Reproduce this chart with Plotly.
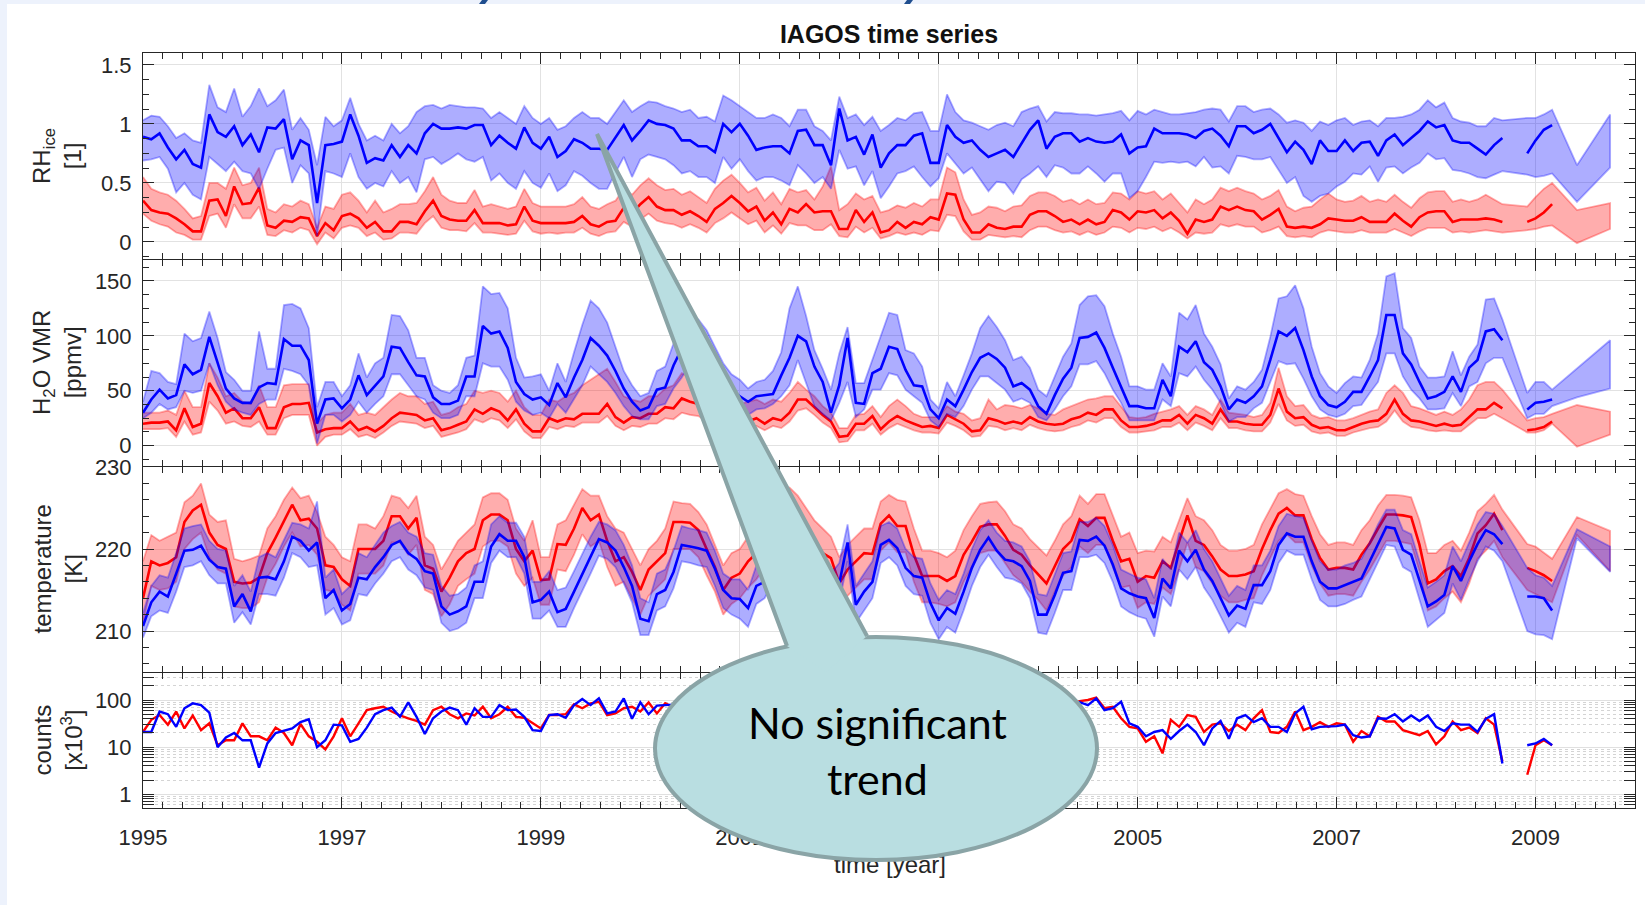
import plotly.graph_objects as go

def arr(s):
    return [float(t) for t in s.split()]

# ---------------- time axis ----------------
START_YEAR = 1995          # first monthly value = Jan 1995
TAIL_MONTHS = ["2008-12", "2009-01", "2009-02", "2009-03"]   # short segment after gap
EXT_MONTHS = ["2009-06", "2009-10"]                          # band-only points

def dec(ym):
    y, m = ym.split("-")
    return int(y) + (int(m) - 1) / 12.0

# ---------------- RH_ice ----------------
rh_b = arr("""
0.89 0.87 0.92 0.80 0.70 0.78 0.66 0.63 1.08 0.93
0.89 0.98 0.82 0.91 0.76 0.97 0.96 1.04 0.70 0.86
0.82 0.33 0.82 0.83 0.85 1.08 0.90 0.67 0.71 0.69
0.82 0.72 0.82 0.75 0.92 1.00 0.96 0.96 0.97 0.96
0.99 0.99 0.82 0.90 0.84 0.79 0.97 0.84 0.79 0.89
0.72 0.77 0.87 0.84 0.79 0.79 0.78 0.88 0.99 0.86
0.94 1.03 1.00 0.99 0.96 0.86 0.86 0.81 0.81 0.76
1.00 0.93 1.00 0.90 0.78 0.80 0.81 0.81 0.75 0.94
0.95 0.82 0.82 0.65 1.13 0.86 0.89 0.74 0.91 0.63
0.75 0.82 0.82 0.90 0.92 0.67 0.67 0.99 0.89 0.84
0.86 0.78 0.72 0.75 0.78 0.72 0.84 0.95 1.03 0.79
0.89 0.92 0.92 0.85 0.88 0.85 0.84 0.85 0.91 0.75
0.80 0.81 0.96 0.92 0.92 0.92 0.91 0.88 0.94 0.96
0.90 0.81 0.98 0.98 0.92 0.95 1.00 0.88 0.76 0.85
0.78 0.66 0.86 0.77 0.77 0.86 0.77 0.84 0.85 0.73
0.86 0.91 0.82 0.88 0.94 1.02 0.97 0.99 0.86 0.84
0.84 0.79 0.74 0.82 0.88""")
rh_b_t = arr("0.75 0.86 0.95 0.99")
rh_b_hi = arr("""
1.03 1.07 1.06 0.98 0.88 0.92 0.86 0.84 1.33 1.14
1.10 1.30 1.06 1.15 1.30 1.15 1.20 1.29 0.95 1.05
0.95 0.65 1.06 0.98 1.03 1.22 1.00 0.86 0.90 0.86
1.00 0.92 0.98 1.10 1.15 1.16 1.13 1.16 1.15 1.14
1.14 1.13 1.05 1.10 1.05 1.00 1.15 1.05 1.00 1.05
0.95 0.98 1.05 1.10 1.05 1.05 1.00 1.10 1.20 1.10
1.15 1.19 1.18 1.15 1.13 1.10 1.12 1.05 1.06 1.02
1.24 1.20 1.15 1.10 1.05 1.05 1.08 1.05 0.98 1.12
1.12 0.98 0.94 0.86 1.23 1.05 1.08 0.99 1.06 0.94
0.99 1.05 1.03 1.09 1.10 0.94 0.94 1.25 1.10 1.03
1.01 0.98 0.95 0.99 1.01 0.98 1.10 1.13 1.15 1.02
1.10 1.09 1.09 1.08 1.08 1.07 1.08 1.09 1.11 1.03
1.11 1.08 1.12 1.10 1.08 1.08 1.09 1.10 1.12 1.13
1.12 1.02 1.15 1.15 1.10 1.12 1.13 1.08 1.01 1.03
1.01 0.94 1.02 0.99 1.03 1.05 0.99 1.02 1.03 0.98
1.05 1.05 1.06 1.08 1.12 1.20 1.14 1.18 1.05 1.02
1.01 0.98 0.98 1.05 1.03""")
rh_b_hi_t = arr("1.05 1.05 1.08 1.12")
rh_b_hi_e = arr("0.65 1.08")
rh_b_lo = arr("""
0.69 0.70 0.72 0.62 0.42 0.50 0.40 0.36 0.72 0.66
0.60 0.68 0.60 0.58 0.45 0.62 0.78 0.80 0.50 0.65
0.58 0.05 0.60 0.58 0.55 0.75 0.55 0.45 0.50 0.47
0.60 0.50 0.55 0.42 0.70 0.72 0.66 0.70 0.75 0.70
0.68 0.72 0.52 0.58 0.50 0.45 0.60 0.50 0.46 0.58
0.43 0.48 0.60 0.56 0.50 0.45 0.45 0.58 0.72 0.55
0.70 0.74 0.72 0.70 0.65 0.58 0.60 0.55 0.55 0.50
0.72 0.62 0.70 0.60 0.52 0.55 0.55 0.52 0.48 0.65
0.58 0.50 0.55 0.45 0.78 0.62 0.64 0.48 0.60 0.37
0.47 0.58 0.60 0.64 0.55 0.47 0.54 0.75 0.67 0.58
0.63 0.53 0.43 0.51 0.50 0.41 0.53 0.58 0.64 0.55
0.65 0.63 0.58 0.58 0.64 0.58 0.51 0.58 0.58 0.37
0.43 0.55 0.68 0.67 0.68 0.67 0.68 0.64 0.72 0.63
0.64 0.58 0.73 0.72 0.70 0.70 0.72 0.61 0.50 0.55
0.39 0.34 0.39 0.41 0.47 0.51 0.58 0.57 0.64 0.51
0.63 0.64 0.58 0.63 0.67 0.75 0.70 0.71 0.61 0.60
0.58 0.55 0.54 0.57 0.60""")
rh_b_lo_t = arr("0.57 0.55 0.56 0.58")
rh_b_lo_e = arr("0.34 0.63")

rh_r = arr("""
0.35 0.27 0.25 0.24 0.20 0.15 0.09 0.09 0.35 0.36
0.22 0.47 0.32 0.33 0.46 0.14 0.12 0.18 0.17 0.21
0.20 0.05 0.16 0.10 0.22 0.24 0.20 0.12 0.17 0.09
0.09 0.17 0.17 0.15 0.26 0.35 0.22 0.19 0.18 0.18
0.27 0.16 0.16 0.16 0.14 0.15 0.30 0.18 0.16 0.16
0.16 0.16 0.17 0.22 0.15 0.13 0.17 0.18 0.29 0.24
0.32 0.38 0.30 0.27 0.27 0.23 0.26 0.22 0.17 0.28
0.33 0.39 0.33 0.26 0.30 0.18 0.25 0.15 0.28 0.25
0.32 0.25 0.26 0.26 0.11 0.11 0.27 0.17 0.25 0.08
0.10 0.17 0.12 0.17 0.15 0.21 0.19 0.41 0.40 0.19
0.08 0.08 0.15 0.12 0.11 0.13 0.13 0.23 0.26 0.26
0.22 0.17 0.19 0.15 0.19 0.15 0.17 0.27 0.25 0.19
0.26 0.25 0.27 0.20 0.25 0.18 0.07 0.19 0.17 0.19
0.30 0.27 0.30 0.27 0.26 0.19 0.23 0.28 0.13 0.12
0.13 0.12 0.15 0.20 0.19 0.18 0.18 0.21 0.17 0.17
0.17 0.24 0.18 0.13 0.21 0.25 0.26 0.26 0.17 0.19
0.19 0.19 0.20 0.19 0.17""")
rh_r_t = arr("0.17 0.20 0.25 0.32")
rh_r_hi = arr("""
0.55 0.45 0.42 0.40 0.35 0.28 0.20 0.22 0.50 0.50
0.45 0.63 0.48 0.50 0.63 0.28 0.25 0.32 0.30 0.35
0.32 0.12 0.30 0.28 0.40 0.42 0.35 0.25 0.35 0.25
0.28 0.32 0.32 0.33 0.43 0.55 0.40 0.35 0.33 0.33
0.44 0.30 0.32 0.30 0.28 0.30 0.45 0.33 0.30 0.30
0.30 0.30 0.32 0.38 0.30 0.28 0.32 0.35 0.45 0.40
0.48 0.54 0.48 0.44 0.45 0.40 0.43 0.38 0.33 0.45
0.52 0.57 0.50 0.42 0.46 0.35 0.42 0.32 0.45 0.42
0.44 0.36 0.47 0.64 0.27 0.32 0.41 0.36 0.39 0.25
0.27 0.31 0.29 0.33 0.30 0.36 0.36 0.63 0.59 0.36
0.23 0.25 0.30 0.29 0.26 0.30 0.31 0.39 0.42 0.42
0.39 0.34 0.36 0.32 0.36 0.32 0.33 0.42 0.41 0.36
0.43 0.41 0.43 0.36 0.41 0.33 0.25 0.36 0.32 0.36
0.46 0.43 0.46 0.43 0.41 0.36 0.39 0.44 0.30 0.26
0.29 0.30 0.36 0.41 0.36 0.34 0.35 0.39 0.34 0.36
0.34 0.40 0.34 0.29 0.37 0.42 0.43 0.43 0.34 0.36
0.34 0.36 0.40 0.36 0.32""")
rh_r_hi_t = arr("0.30 0.38 0.45 0.50")
rh_r_hi_e = arr("0.27 0.33")
rh_r_lo = arr("""
0.24 0.18 0.15 0.13 0.08 0.06 0.02 0.02 0.22 0.24
0.12 0.32 0.20 0.20 0.30 0.06 0.05 0.10 0.08 0.12
0.10 -0.02 0.08 0.03 0.12 0.14 0.12 0.05 0.08 0.02
0.03 0.08 0.08 0.07 0.16 0.22 0.12 0.10 0.10 0.09
0.16 0.08 0.08 0.07 0.06 0.07 0.18 0.09 0.07 0.08
0.07 0.08 0.08 0.12 0.07 0.05 0.08 0.09 0.17 0.13
0.19 0.24 0.18 0.16 0.15 0.12 0.15 0.12 0.08 0.16
0.20 0.25 0.20 0.15 0.18 0.08 0.14 0.07 0.16 0.14
0.14 0.10 0.10 0.15 0.05 0.04 0.13 0.08 0.12 0.03
0.05 0.08 0.06 0.08 0.06 0.10 0.09 0.23 0.22 0.09
0.02 0.02 0.06 0.05 0.04 0.05 0.04 0.10 0.13 0.13
0.10 0.08 0.09 0.06 0.09 0.06 0.08 0.13 0.12 0.08
0.12 0.11 0.13 0.09 0.12 0.08 0.03 0.08 0.07 0.08
0.15 0.13 0.15 0.13 0.13 0.08 0.10 0.13 0.05 0.04
0.05 0.04 0.08 0.10 0.09 0.08 0.08 0.10 0.08 0.08
0.08 0.11 0.08 0.05 0.09 0.12 0.12 0.12 0.08 0.09
0.08 0.09 0.10 0.09 0.08""")
rh_r_lo_t = arr("0.10 0.11 0.13 0.14")
rh_r_lo_e = arr("-0.01 0.11")

# ---------------- H2O VMR ----------------
h2o_b = arr("""
30 42 51 43 46 74 65 69 99 75
52 43 39 39 53 57 56 97 91 91
78 20 42 43 34 42 64 46 55 63
90 89 76 64 63 44 38 38 41 63
63 109 102 104 89 58 47 42 44 37
57 44 62 78 98 91 82 68 52 40
32 35 51 53 73 88 104 98 84 70
58 50 45 40 45 46 47 64 80 100
95 72 58 30 55 98 39 38 66 70
90 88 69 55 54 33 25 42 36 51
67 80 84 79 71 54 57 51 36 29
46 61 71 98 99 103 89 71 54 36
36 34 34 60 45 90 85 95 76 69
54 33 42 39 45 54 78 104 100 107
87 63 45 37 35 40 49 49 63 78
119 119 84 74 58 43 45 49 63 49
71 78 104 106 96""")
h2o_b_t = arr("33 39 40 42")
h2o_b_hi = arr("""
40 68 66 58 56 102 95 98 122 98
67 60 50 50 104 70 70 128 129 125
107 35 58 58 45 55 84 62 75 80
119 118 105 80 80 55 50 48 55 80
82 145 138 139 125 80 62 63 65 50
75 58 85 110 132 125 112 90 68 55
45 48 68 72 93 110 115 115 105 90
75 65 60 52 58 60 68 85 125 145
118 87 70 51 84 108 57 57 78 99
121 119 87 84 72 42 34 58 45 64
84 107 118 108 96 78 81 71 51 45
63 81 93 128 136 137 127 102 81 54
54 51 51 75 63 121 115 128 102 90
74 43 54 51 58 69 99 134 136 146
125 90 66 54 48 57 63 62 78 102
154 157 107 98 72 62 62 63 86 64
81 92 133 134 115""")
h2o_b_hi_t = arr("48 58 58 51")
h2o_b_hi_e = arr("70 96")
h2o_b_lo = arr("""
25 30 38 33 35 50 48 50 75 55
40 33 30 28 38 42 42 70 68 65
55 2 28 28 22 28 40 30 38 45
65 65 55 45 42 30 25 25 28 45
45 75 72 72 60 40 32 28 30 25
38 30 42 55 72 65 58 48 36 27
24 24 36 38 52 62 75 70 60 50
42 35 32 28 33 34 38 45 55 78
57 36 29 23 39 58 26 33 51 51
66 64 51 45 39 23 17 29 26 36
51 63 63 57 51 40 43 39 26 23
33 45 54 74 74 77 66 51 39 23
23 23 23 42 36 66 63 72 60 51
39 22 26 26 34 39 58 77 74 75
61 45 33 28 26 29 36 37 48 58
84 84 63 51 43 33 33 34 48 36
54 58 75 80 80""")
h2o_b_lo_t = arr("25 29 29 36")
h2o_b_lo_e = arr("44 52")

h2o_r = arr("""
20 21 21 22 14 34 17 20 57 45
30 34 25 25 35 16 16 35 38 38
39 12 15 16 16 22 14 17 13 18
25 30 29 28 23 25 14 16 19 22
33 29 34 31 23 33 20 13 13 25
22 25 24 29 29 29 38 26 21 26
25 29 29 35 34 43 40 38 32 28
30 25 20 22 25 20 25 23 30 42
42 35 28 22 8 9 20 20 27 15
22 27 23 20 17 18 16 28 24 20
13 14 25 23 20 22 20 26 22 20
19 20 24 26 30 28 33 33 23 17
17 18 20 23 23 28 20 28 25 20
33 22 22 20 19 19 28 52 31 25
26 19 16 17 14 14 17 20 22 23
29 42 29 23 22 20 18 20 18 19
26 33 33 39 34""")
h2o_r_t = arr("14 15 17 22")
h2o_r_hi = arr("""
30 30 30 32 28 50 35 35 75 62
45 48 40 38 55 35 35 55 56 56
56 20 28 30 30 38 28 30 28 35
42 48 45 45 38 40 28 30 35 38
50 48 50 48 40 50 35 28 28 42
40 45 48 55 60 65 70 58 45 42
40 45 45 52 55 66 62 58 50 45
48 42 38 40 42 38 42 40 48 58
51 45 36 30 16 16 28 29 36 26
36 42 36 29 26 26 26 36 31 29
23 25 42 33 37 36 34 37 34 29
28 33 36 39 42 43 45 45 36 26
25 26 29 31 33 36 28 36 33 28
42 30 29 28 26 28 39 71 45 36
37 28 25 26 23 23 25 28 31 33
48 55 48 36 34 31 28 31 28 33
42 55 58 58 51""")
h2o_r_hi_t = arr("23 25 26 29")
h2o_r_hi_e = arr("37 31")
h2o_r_lo = arr("""
15 15 15 16 8 22 10 12 40 32
20 22 18 17 22 10 10 25 28 28
28 0 8 10 10 15 8 10 7 12
18 22 21 20 16 18 8 10 12 15
24 21 25 23 16 24 13 7 7 17
15 18 17 21 21 21 27 18 14 18
17 20 20 25 24 30 28 27 22 20
22 18 13 15 18 14 18 16 22 32
34 28 21 16 3 4 14 14 20 10
16 20 17 14 12 12 11 21 18 14
8 9 18 17 14 16 14 19 16 14
13 14 17 19 23 21 25 25 17 12
12 13 14 17 17 21 14 21 18 14
25 16 16 14 13 13 21 38 23 18
19 13 11 12 9 9 12 14 16 17
22 32 22 17 16 14 13 14 13 13
19 25 25 29 25""")
h2o_r_lo_t = arr("12 12 14 20")
h2o_r_lo_e = arr("-1 10")

# ---------------- temperature ----------------
t_r = arr("""
214.0 218.5 218.0 218.3 219.0 223.3 224.7 225.4 222.0 220.5
220.0 216.0 215.8 215.9 216.5 219.5 221.4 223.5 225.4 223.5
223.7 222.5 218.0 217.8 216.3 215.5 220.0 220.0 220.0 221.0
224.0 224.0 222.5 223.8 218.0 217.6 214.8 216.5 218.5 219.5
220.0 223.5 224.2 224.2 223.5 220.0 218.5 219.8 216.2 216.3
220.6 220.5 222.5 225.0 223.5 224.2 221.0 218.5 219.0 217.2
215.0 217.5 218.5 219.5 223.3 223.3 223.2 222.3 220.0 217.8
215.0 216.5 217.0 218.5 219.5 221.0 223.0 224.5 225.0 224.0
222.0 220.5 219.5 218.9 215.8 217.5 218.5 219.5 219.4 223.1
224.1 222.8 222.8 219.3 216.7 216.7 216.7 216.1 216.7 219.3
220.9 222.7 223.0 223.0 221.6 219.9 219.3 218.0 216.9 215.8
217.9 220.0 221.0 223.6 222.8 223.8 223.8 221.0 218.5 218.8
216.0 216.7 216.5 218.5 217.7 220.8 224.1 221.0 220.5 219.1
217.5 216.7 216.7 216.9 217.3 220.0 222.3 224.3 225.0 224.1
224.1 221.2 218.9 217.5 217.7 217.7 217.5 219.3 220.7 222.5
224.2 224.2 224.1 223.9 220.5 215.8 216.3 217.3 217.9 216.7
218.9 221.9 222.9 224.3 222.3""")
t_r_t = arr("217.7 217.3 216.8 216.1")
t_r_hi = arr("""
218.5 221.7 221.0 221.5 222.0 225.7 226.5 228.0 224.2 223.3
223.5 218.8 218.5 218.8 219.2 222.5 224.0 226.0 227.5 226.2
226.5 224.5 221.5 220.5 219.0 218.5 223.0 223.0 222.5 224.0
226.5 226.2 225.0 226.5 221.5 220.5 217.5 219.2 221.0 222.0
223.0 226.3 226.8 226.8 226.0 222.5 221.0 223.5 219.0 219.0
223.0 223.5 225.5 227.3 226.5 226.5 224.0 222.5 222.0 220.0
218.0 220.0 221.0 222.5 225.8 225.6 225.5 224.5 223.0 220.5
218.0 219.5 220.0 221.5 222.5 224.0 225.8 227.0 227.5 226.5
225.0 223.5 222.5 221.5 219.0 220.5 221.5 222.5 222.5 225.8
226.6 226.0 225.8 222.5 219.8 219.8 219.5 219.0 219.8 222.3
224.0 225.5 225.7 225.8 224.6 223.0 222.5 221.2 220.2 219.2
221.0 223.0 224.0 226.5 225.5 226.7 226.7 224.0 221.5 222.0
219.5 219.8 219.7 221.5 220.8 223.5 226.2 224.0 223.5 222.3
220.5 219.8 219.8 220.0 220.5 223.0 225.0 226.8 227.3 226.7
226.5 224.0 221.8 220.5 220.8 220.8 220.5 222.3 223.5 225.3
226.6 226.6 226.5 226.3 223.5 219.5 219.5 220.5 221.0 219.8
222.0 224.6 225.5 226.6 224.8""")
t_r_hi_t = arr("220.6 220.3 219.5 218.8")
t_r_hi_e = arr("223.9 222.2")
t_r_lo = arr("""
211.0 215.5 215.0 215.2 216.0 220.0 221.2 222.0 219.0 217.5
217.0 213.0 212.8 212.8 213.5 216.5 218.2 220.3 222.0 220.3
220.5 219.3 215.0 214.8 213.2 212.5 217.0 217.0 217.0 218.0
220.8 220.8 219.3 220.5 215.0 214.5 211.8 213.3 215.5 216.3
217.0 220.3 221.0 221.0 220.3 217.0 215.5 216.5 213.2 213.2
217.5 217.3 219.3 221.8 220.3 221.0 217.8 215.5 216.0 214.0
212.0 214.3 215.3 216.3 220.0 220.0 220.0 219.0 216.8 214.8
212.0 213.3 214.0 215.3 216.3 217.8 219.8 221.3 221.8 220.8
218.8 217.3 216.3 215.8 212.5 214.3 215.3 216.3 216.3 219.8
220.8 219.6 219.6 216.0 213.5 213.5 213.3 213.0 213.5 216.0
217.8 219.5 219.8 219.8 218.3 216.8 216.0 214.8 213.8 212.5
214.8 216.8 217.8 220.3 219.5 220.5 220.5 217.8 215.3 215.5
212.8 213.5 213.3 215.3 214.5 217.5 220.8 217.8 217.3 215.8
214.3 213.5 213.5 213.8 214.0 216.8 219.0 221.0 221.8 220.8
220.8 218.0 215.8 214.3 214.5 214.5 214.3 216.0 217.5 219.3
221.0 221.0 220.8 220.6 217.3 212.5 213.0 214.0 214.8 213.5
215.8 218.8 219.8 221.0 219.0""")
t_r_lo_t = arr("215.0 214.6 214.0 213.5")
t_r_lo_e = arr("221.7 217.3")

t_b = arr("""
210.6 213.5 214.8 214.2 217.0 219.8 219.9 220.4 218.7 217.8
217.6 213.0 214.5 212.4 216.5 216.6 216.3 218.5 221.5 221.0
219.8 220.8 214.0 215.0 212.5 213.3 216.5 216.3 217.8 219.0
220.5 221.0 219.5 218.8 217.3 217.0 213.0 212.0 212.4 213.0
216.0 216.0 220.3 221.8 221.0 221.0 219.0 213.5 213.8 214.8
212.3 212.7 214.8 217.0 219.0 221.2 220.8 219.8 217.8 215.5
211.5 211.2 214.5 215.0 217.2 220.5 220.3 220.1 219.8 217.6
215.0 214.0 213.9 212.8 215.5 216.0 218.0 220.0 221.5 221.0
219.5 218.0 216.5 214.5 215.8 220.8 213.2 214.8 216.0 220.5
221.1 220.1 217.7 216.7 216.5 213.4 211.3 212.8 212.1 214.8
217.7 219.9 221.4 219.8 218.7 218.5 217.9 216.1 212.0 212.0
214.4 217.1 217.3 221.1 221.0 221.5 220.4 218.1 215.2 214.6
214.2 214.0 211.6 216.4 215.2 219.8 218.5 219.9 217.5 216.1
214.1 211.9 213.1 212.7 215.6 215.6 217.3 220.5 221.9 221.5
221.5 218.5 216.0 215.2 215.2 215.6 216.0 216.4 218.5 220.7
222.7 222.5 219.9 219.3 216.1 213.0 213.6 214.4 217.9 216.1
218.5 220.6 222.3 221.8 220.6""")
t_b_t = arr("214.2 214.2 214.0 212.5")
t_b_hi = arr("""
212.2 215.5 216.8 216.5 219.5 222.5 222.8 223.0 221.0 220.0
219.8 215.5 216.8 214.8 219.0 219.5 219.0 221.0 223.2 223.0
222.5 225.8 216.5 217.5 214.5 215.5 219.5 219.0 220.5 222.0
222.8 223.3 222.0 221.5 219.5 219.3 215.5 214.3 214.5 215.3
218.0 218.5 223.0 224.0 223.2 223.2 221.5 216.0 216.0 217.3
215.0 215.3 217.3 219.5 221.5 223.3 223.0 222.3 220.5 218.0
214.0 213.5 217.0 217.5 219.8 222.8 222.5 222.3 222.0 219.8
217.0 216.3 216.3 215.0 218.0 218.5 220.5 222.3 223.8 223.3
221.8 220.3 218.8 217.0 218.3 223.0 215.5 217.0 218.5 222.8
223.3 222.5 220.0 219.0 218.8 215.8 213.8 215.0 214.5 217.0
220.0 222.3 223.5 222.0 221.0 220.8 220.3 218.5 214.5 214.3
216.8 219.5 219.7 223.3 223.3 223.8 222.8 220.5 217.5 217.0
216.5 216.3 214.0 218.8 217.5 222.0 220.8 222.3 220.0 218.5
216.5 214.3 215.5 215.0 218.0 218.0 219.8 222.8 224.3 224.0
223.8 221.0 218.5 217.5 217.5 218.0 218.3 218.8 220.8 223.0
224.8 224.8 222.3 221.8 218.5 215.3 216.0 216.8 220.3 218.5
220.8 223.0 224.5 224.3 222.8""")
t_b_hi_t = arr("217.7 216.8 216.5 215.5")
t_b_hi_e = arr("222.4 220.3")
t_b_lo = arr("""
209.2 211.8 212.5 212.2 214.8 217.8 218.0 218.5 216.8 215.8
215.8 211.0 212.3 210.8 214.5 214.5 214.3 216.5 219.5 219.0
217.8 218.0 212.0 212.8 210.8 211.3 214.5 214.3 215.8 217.0
218.5 219.0 217.5 216.8 215.3 215.0 211.0 210.0 210.3 211.0
214.0 214.0 218.3 219.8 219.0 219.0 217.0 211.5 211.5 212.5
210.5 210.5 212.8 215.0 217.0 219.2 218.8 217.8 215.8 213.5
209.5 209.5 212.5 213.0 215.2 218.5 218.3 218.0 217.8 215.5
212.8 212.0 211.5 210.5 213.3 214.0 216.0 218.0 219.5 219.0
217.5 216.0 214.5 212.3 213.5 218.5 211.0 212.5 214.0 218.3
219.0 218.0 215.5 214.5 214.3 211.0 209.0 210.5 209.8 212.5
215.5 217.8 219.3 217.8 216.5 216.3 215.8 214.0 209.8 209.6
212.2 215.0 215.0 219.0 219.0 219.3 218.3 216.0 213.0 212.3
211.8 211.5 209.3 214.2 213.0 217.5 216.3 217.8 215.3 213.8
211.8 209.8 211.0 210.5 213.5 213.3 215.0 218.3 219.8 219.3
219.3 216.3 213.8 213.0 213.0 213.3 213.8 214.2 216.3 218.5
220.5 220.3 217.8 217.2 213.8 210.5 211.3 212.2 215.8 213.8
216.3 218.5 220.3 219.8 218.5""")
t_b_lo_t = arr("210.0 209.6 209.5 209.0")
t_b_lo_e = arr("221.3 217.2")

# ---------------- counts [x10^3] ----------------
c_r = arr("""
21 38 48 30 57 25 47 23 32 11
14 14 32 17 17 14 26 20 11 31
17 13 9 17 41 17 32 61 67 72
57 47 41 36 30 61 72 50 41 52
47 72 41 50 72 44 42 32 25 48
48 50 81 67 85 92 48 52 67 72
57 89 52 85 70 75 60 80 90 70
65 85 75 60 70 80 90 75 60 55
70 85 65 50 45 60 75 80 70 65
75 85 70 60 55 65 80 75 70 85
90 75 65 70 80 85 75 65 60 75
80 70 85 95 100 113 67 72 41 27
25 13 17 7.4 38 27 48 44 21 30
32 22 30 23 41 61 21 20 27 57
23 27 34 27 32 30 13 22 17 44
35 35 23 20 18 22 11.5 17 35 23
26 20 41 30 5""")
c_r_t = arr("2.6 11 14 11")
c_b = arr("""
21 21 57 50 27 67 85 78 54 10
16 20 14 14 3.7 12 20 22 25 34
39 10 14 30 29 13 15 26 50 61
69 44 89 44 19 41 57 69 61 30
67 44 44 78 61 63 44 23 22 48
50 42 78 105 78 108 52 57 108 40
89 50 76 78 80 72 90 65 75 85
60 70 80 72 55 65 85 80 70 60
65 75 80 55 50 70 65 85 75 60
70 80 75 65 60 70 75 85 65 75
85 80 70 65 75 90 80 70 65 70
85 75 80 90 78 108 61 67 92 32
27 17 21 23 15 22 30 21 11 25
36 15 41 48 34 41 27 27 21 52
72 24 27 27 28 30 18 16 17 41
40 50 35 47 36 47 27 22 32 30
30 21 40 50 4.5""")
c_b_t = arr("11 12 15 11")

X_TITLE = "time [year]"
X_TITLE_AT = 2002.51

# ---------------- figure geometry ----------------
W, H = 1645, 905
ML, MR, MT, MB = 143, 10, 53, 97
PW, PH = W - ML - MR, H - MT - MB

def X(p):
    return (p - ML) / PW

def Y(p):
    return 1 - (p - MT) / PH

DOMS = [(Y(259), Y(53)), (Y(466), Y(260)), (Y(672), Y(467)), (Y(808), Y(673))]

FONT = "Liberation Sans, Arial, Helvetica, sans-serif"
AX = "#262626"
BLUE, RED = "#0000FF", "#FF0000"
BFILL, RFILL = "rgba(0,0,255,0.32)", "rgba(255,0,0,0.32)"

xt = [dec(m) for m in TAIL_MONTHS]
xe = [dec(m) for m in EXT_MONTHS]

def xmain(n):
    return [START_YEAR + i / 12.0 for i in range(n)]

fig = go.Figure()

def ax(k, base):
    return base + ("" if k == 1 else str(k))

def add_band(hi, lo, hi_t, lo_t, hi_e, lo_e, fill, k):
    n = min(len(hi), len(lo))
    xs = xmain(n) + xt + xe
    up = hi[:n] + hi_t + hi_e
    dn = lo[:n] + lo_t + lo_e
    fig.add_trace(go.Scatter(
        x=xs + xs[::-1], y=up + dn[::-1], mode="lines", fill="toself",
        fillcolor=fill, line=dict(color=fill, width=1.8),
        xaxis=ax(k, "x"), yaxis=ax(k, "y"), hoverinfo="skip", showlegend=False))

def add_line(mean, mean_t, color, k, width=2.6):
    xs = xmain(len(mean)) + [None] + xt
    ys = mean + [None] + mean_t
    fig.add_trace(go.Scatter(
        x=xs, y=ys, mode="lines", line=dict(color=color, width=width),
        xaxis=ax(k, "x"), yaxis=ax(k, "y"), hoverinfo="skip", showlegend=False, connectgaps=False))

# panel 1 RH
add_band(rh_r_hi, rh_r_lo, rh_r_hi_t, rh_r_lo_t, rh_r_hi_e, rh_r_lo_e, RFILL, 1)
add_line(rh_r, rh_r_t, RED, 1)
add_band(rh_b_hi, rh_b_lo, rh_b_hi_t, rh_b_lo_t, rh_b_hi_e, rh_b_lo_e, BFILL, 1)
add_line(rh_b, rh_b_t, BLUE, 1)
# panel 2 H2O
add_band(h2o_r_hi, h2o_r_lo, h2o_r_hi_t, h2o_r_lo_t, h2o_r_hi_e, h2o_r_lo_e, RFILL, 2)
add_line(h2o_r, h2o_r_t, RED, 2)
add_band(h2o_b_hi, h2o_b_lo, h2o_b_hi_t, h2o_b_lo_t, h2o_b_hi_e, h2o_b_lo_e, BFILL, 2)
add_line(h2o_b, h2o_b_t, BLUE, 2)
# panel 3 temperature
add_band(t_r_hi, t_r_lo, t_r_hi_t, t_r_lo_t, t_r_hi_e, t_r_lo_e, RFILL, 3)
add_line(t_r, t_r_t, RED, 3)
add_band(t_b_hi, t_b_lo, t_b_hi_t, t_b_lo_t, t_b_hi_e, t_b_lo_e, BFILL, 3)
add_line(t_b, t_b_t, BLUE, 3)
# panel 4 counts
add_line(c_r, c_r_t, RED, 4, 2.4)
add_line(c_b, c_b_t, BLUE, 4, 2.4)

# invisible trace so that the overlay axis carrying the x title is drawn
fig.add_trace(go.Scatter(x=[X_TITLE_AT], y=[10], mode="markers", marker=dict(opacity=0),
                         xaxis="x5", yaxis="y4", hoverinfo="skip", showlegend=False))

tickfont = dict(family=FONT, size=22, color=AX)

def xaxis(k):
    return dict(
        domain=[0, 1], anchor=ax(k, "y"),
        range=[1995, 2010], tickmode="linear", tick0=1995, dtick=2,
        ticks="inside", ticklen=11, tickwidth=1, tickcolor=AX,
        showline=True, linecolor=AX, linewidth=1, mirror="allticks",
        showgrid=True, gridcolor="#E2E2E2", gridwidth=1, zeroline=False,
        minor=dict(tick0=1995, dtick=0.2, ticks="inside", ticklen=6, tickcolor=AX, showgrid=False),
        showticklabels=(k == 4), tickfont=tickfont, ticklabelstandoff=10,
        matches=None if k == 1 else "x")

def yaxis(k, rng, tick0, dtick, mdtick):
    return dict(
        domain=list(DOMS[k - 1]), anchor=ax(k, "x"),
        range=rng, tickmode="linear", tick0=tick0, dtick=dtick,
        ticks="inside", ticklen=11, tickwidth=1, tickcolor=AX,
        showline=True, linecolor=AX, linewidth=1, mirror="allticks",
        showgrid=True, gridcolor="#E2E2E2", gridwidth=1, zeroline=False,
        minor=dict(tick0=tick0, dtick=mdtick, ticks="inside", ticklen=6, tickcolor=AX, showgrid=False),
        tickfont=tickfont, ticklabelstandoff=6)

layout = dict(
    width=W, height=H, margin=dict(l=ML, r=MR, t=MT, b=MB, pad=0),
    paper_bgcolor="white", plot_bgcolor="white", showlegend=False,
    title=dict(text="<b>IAGOS time series</b>", x=0.5, xref="paper", xanchor="center",
               y=1 - 34 / H, yref="container", yanchor="middle",
               font=dict(family=FONT, size=25, color="#111111")),
)
for k in range(1, 5):
    layout[ax(k, "xaxis")] = xaxis(k)
layout["yaxis"] = yaxis(1, [-0.144, 1.6], 0, 0.5, 0.125)
layout["yaxis2"] = yaxis(2, [-18.5, 169], 0, 50, 12.5)
layout["yaxis3"] = yaxis(3, [205.0, 230.0], 210, 10, 2)
minor_log = [0.6, 0.7, 0.8, 0.9] + [m for m in range(2, 10)] + [10 * m for m in range(2, 10)] + [200, 300]
layout["yaxis4"] = dict(
    domain=list(DOMS[3]), anchor="x4", type="log", range=[-0.29, 2.573],
    tickmode="array", tickvals=[1, 10, 100], ticktext=["1", "10", "100"],
    ticks="inside", ticklen=11, tickwidth=1, tickcolor=AX,
    showline=True, linecolor=AX, linewidth=1, mirror="allticks",
    showgrid=True, gridcolor="#E0E0E0", gridwidth=1, zeroline=False,
    minor=dict(tickmode="array", tickvals=minor_log, ticks="inside", ticklen=6,
               tickcolor=AX, showgrid=True, gridcolor="#D4D4D4", griddash="dot", gridwidth=1),
    tickfont=tickfont, ticklabelstandoff=6)
# overlay x axis whose single tick label is the x title (so the callout can cover it)
layout["xaxis5"] = dict(
    domain=[0, 1], anchor="y4", overlaying="x4", side="bottom", range=[1995, 2010],
    tickmode="array", tickvals=[X_TITLE_AT], ticktext=[X_TITLE], ticks="",
    showline=False, showgrid=False, zeroline=False,
    tickfont=dict(family=FONT, size=24, color=AX), ticklabelstandoff=40)
fig.update_layout(**layout)

# y-axis titles
ytitles = ["RH<sub>ice</sub><br>[1]", "H<sub>2</sub>O VMR<br>[ppmv]", "temperature<br>[K]",
           "counts<br>[x10<sup>3</sup>]"]
for k, t in enumerate(ytitles):
    d0, d1 = DOMS[k]
    fig.add_annotation(text=t, x=X(57), y=(d0 + d1) / 2, xref="paper", yref="paper",
                       xanchor="center", yanchor="middle", textangle=-90, showarrow=False,
                       font=dict(family=FONT, size=24, color=AX), align="center")

shapes = []
# slide background strips
BG = "#EDF2FC"
shapes.append(dict(type="rect", xref="paper", yref="paper", x0=X(0), x1=X(7), y0=Y(905), y1=Y(0),
                   fillcolor=BG, line=dict(width=0), layer="below"))
shapes.append(dict(type="rect", xref="paper", yref="paper", x0=X(0), x1=X(1645), y0=Y(4), y1=Y(0),
                   fillcolor=BG, line=dict(width=0), layer="below"))
for x0 in (479, 904):
    shapes.append(dict(type="path", xref="paper", yref="paper",
                       path="M %f,%f L %f,%f L %f,%f L %f,%f Z" % (X(x0), Y(4), X(x0 + 6), Y(4), X(x0 + 9), Y(0), X(x0 + 3), Y(0)),
                       fillcolor="#1F4E8F", line=dict(width=0), layer="above"))

# callout
CF, CL = "#B9DEE1", "#8AA4A6"
shapes.append(dict(type="circle", xref="paper", yref="paper", x0=X(655), x1=X(1097), y0=Y(860), y1=Y(637),
                   fillcolor=CF, line=dict(color=CL, width=4), layer="above"))
tip, lb, rb, inner = (597, 134), (787, 646), (867, 636), (826, 672)
shapes.append(dict(type="path", xref="paper", yref="paper",
                   path="M %f,%f L %f,%f L %f,%f L %f,%f Z" % (X(tip[0]), Y(tip[1]), X(lb[0]), Y(lb[1]),
                                                               X(inner[0]), Y(inner[1]), X(rb[0]), Y(rb[1])),
                   fillcolor=CF, line=dict(width=0), layer="above"))
shapes.append(dict(type="path", xref="paper", yref="paper",
                   path="M %f,%f L %f,%f L %f,%f" % (X(lb[0]), Y(lb[1]), X(tip[0]), Y(tip[1]), X(rb[0]), Y(rb[1])),
                   fillcolor="rgba(0,0,0,0)", line=dict(color=CL, width=4), layer="above"))
fig.update_layout(shapes=shapes)

fig.add_annotation(text="No significant<br>trend", x=X(877), y=Y(750), xref="paper", yref="paper",
                   xanchor="center", yanchor="middle", showarrow=False, align="center",
                   font=dict(family="Lato, Calibri, Carlito, sans-serif", size=43, color="#000000"))

fig.write_html("out.html")
